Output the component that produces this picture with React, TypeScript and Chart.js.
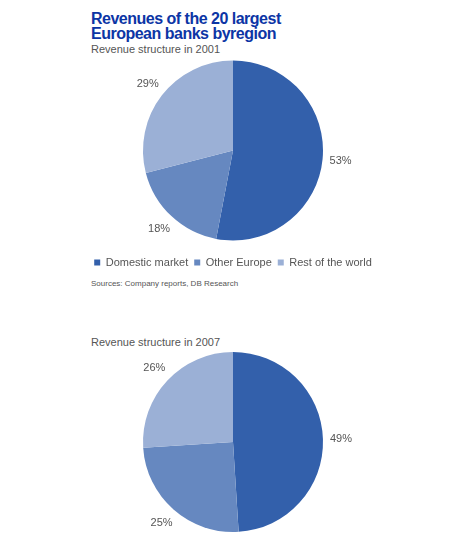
import React, { useEffect, useRef } from "react";
import { Chart, registerables } from "chart.js";

Chart.register(...registerables);

const categories = ["Domestic market", "Other Europe", "Rest of the world"];
const shares2001 = [53, 18, 29];
const shares2007 = [49, 25, 26];
const sliceColors = ["#3360ab", "#6688c0", "#9bb0d6"];

const FONT = '"Liberation Sans", Arial, Helvetica, sans-serif';

const pctLabels = {
  id: "pctLabels",
  afterDatasetsDraw(chart: any) {
    const ctx = chart.ctx;
    const meta = chart.getDatasetMeta(0);
    const data = chart.data.datasets[0].data;
    ctx.save();
    ctx.font = `11px ${FONT}`;
    ctx.fillStyle = "#555555";
    ctx.textAlign = "center";
    ctx.textBaseline = "middle";
    meta.data.forEach((arc: any, i: number) => {
      const { x, y, startAngle, endAngle, outerRadius } = arc.getProps(
        ["x", "y", "startAngle", "endAngle", "outerRadius"],
        true
      );
      const mid = (startAngle + endAngle) / 2;
      const r = outerRadius + 18;
      ctx.fillText(`${data[i]}%`, x + Math.cos(mid) * r, y + Math.sin(mid) * r);
    });
    ctx.restore();
  },
};

function PieChart({ values, legend, top, height }: { values: number[]; legend: boolean; top: number; height: number }) {
  const ref = useRef<HTMLCanvasElement | null>(null);
  useEffect(() => {
    if (!ref.current) return;
    const chart = new Chart(ref.current, {
      type: "pie",
      data: {
        labels: categories,
        datasets: [
          {
            data: values,
            backgroundColor: sliceColors,
            borderWidth: 0,
            radius: 90,
          } as any,
        ],
      },
      options: {
        responsive: false,
        animation: false,
        events: [],
        layout: { padding: 0 },
        plugins: {
          legend: {
            display: legend,
            position: "bottom",
            labels: {
              boxWidth: 6,
              boxHeight: 6,
              padding: 6,
              color: "#555555",
              font: { family: FONT, size: 11 },
            },
          },
          tooltip: { enabled: false },
          title: { display: false },
        },
      } as any,
      plugins: [pctLabels],
    });
    return () => chart.destroy();
  }, []);
  return (
    <canvas
      ref={ref}
      width={436}
      height={height}
      style={{ position: "absolute", left: 15, top, width: 436, height }}
    />
  );
}

export default function App() {
  return (
    <div
      style={{
        position: "absolute",
        left: 0,
        top: 0,
        width: 451,
        height: 545,
        background: "#ffffff",
        fontFamily: FONT,
        overflow: "hidden",
      }}
    >
      <div
        style={{
          position: "absolute",
          left: 91,
          top: 10.5,
          fontSize: 16,
          fontWeight: "bold",
          lineHeight: "15px",
          letterSpacing: "-0.5px",
          color: "#0c35a5",
          whiteSpace: "pre",
        }}
      >
        {"Revenues of the 20 largest\nEuropean banks byregion"}
      </div>
      <div
        style={{
          position: "absolute",
          left: 91,
          top: 42.7,
          fontSize: 11,
          lineHeight: "13px",
          color: "#555555",
          whiteSpace: "pre",
        }}
      >
        Revenue structure in 2001
      </div>
      <PieChart values={shares2001} legend={true} top={50} height={228} />
      <div
        style={{
          position: "absolute",
          left: 91,
          top: 278.5,
          fontSize: 8,
          lineHeight: "10px",
          color: "#555555",
          whiteSpace: "pre",
        }}
      >
        Sources: Company reports, DB Research
      </div>
      <div
        style={{
          position: "absolute",
          left: 91,
          top: 336,
          fontSize: 11,
          lineHeight: "13px",
          color: "#555555",
          whiteSpace: "pre",
        }}
      >
        Revenue structure in 2007
      </div>
      <PieChart values={shares2007} legend={false} top={347} height={190} />
    </div>
  );
}
